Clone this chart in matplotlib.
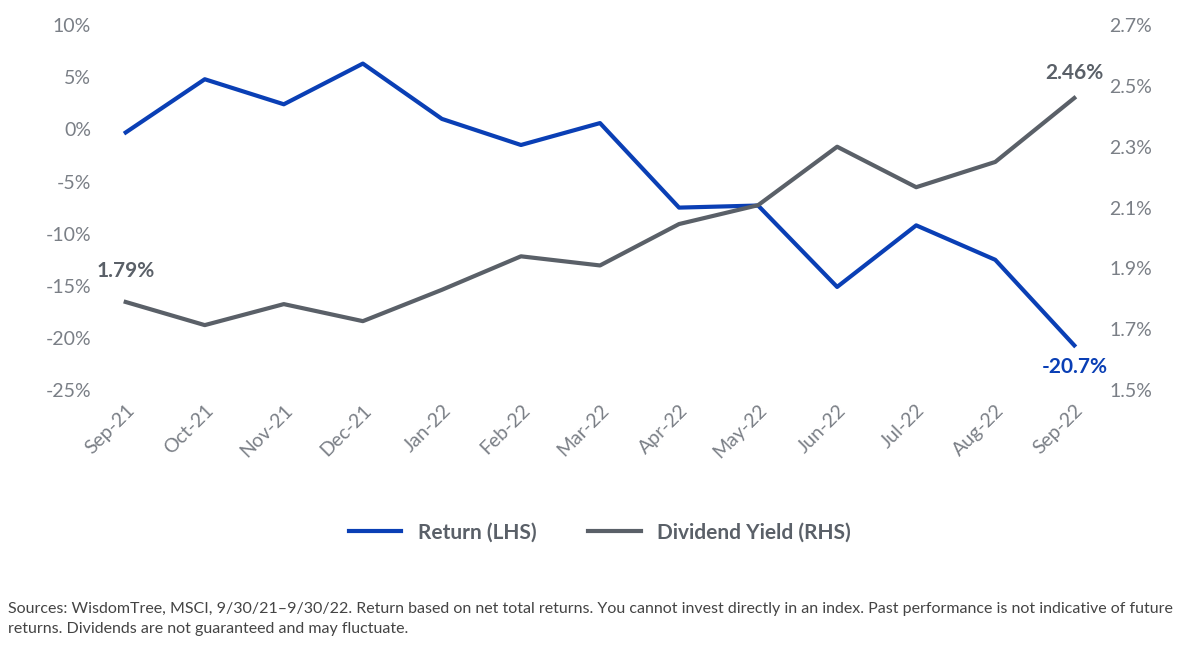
import matplotlib.pyplot as plt

months = ['Sep-21', 'Oct-21', 'Nov-21', 'Dec-21', 'Jan-22', 'Feb-22', 'Mar-22',
          'Apr-22', 'May-22', 'Jun-22', 'Jul-22', 'Aug-22', 'Sep-22']
returns = [-0.3, 4.8, 2.4, 6.3, 1.0, -1.5, 0.6, -7.5, -7.3, -15.1, -9.2, -12.5, -20.7]
div_yield = [1.79, 1.714, 1.783, 1.727, 1.83, 1.94, 1.91, 2.046, 2.108, 2.30, 2.167, 2.25, 2.46]

blue = '#0a3fb5'
grey = '#5a6068'
tick_col = '#7a7f86'
plt.rcParams['font.family'] = ['Lato', 'DejaVu Sans']

fig = plt.figure(figsize=(12, 6.57), dpi=100)
ax = fig.add_axes([0.085, 0.406, 0.83, 0.556])
ax2 = ax.twinx()
x = list(range(len(months)))

l1, = ax.plot(x, returns, color=blue, lw=3, label='Return (LHS)')
l2, = ax2.plot(x, div_yield, color=grey, lw=3, label='Dividend Yield (RHS)')

ax.set_xlim(-0.3, 12.3)
ax.set_ylim(-25, 10)
ax.set_yticks(range(-25, 11, 5))
ax.set_yticklabels([f'{v}%' for v in range(-25, 11, 5)])
ax2.set_ylim(1.5, 2.7)
rt = [1.5, 1.7, 1.9, 2.1, 2.3, 2.5, 2.7]
ax2.set_yticks(rt)
ax2.set_yticklabels([f'{v:.1f}%' for v in rt])
ax.set_xticks(x)
ax.set_xticklabels(months, rotation=45, ha='right', rotation_mode='anchor')

for a in (ax, ax2):
    for s in a.spines.values():
        s.set_visible(False)
    a.tick_params(length=0, labelsize=14, colors=tick_col, pad=8)

ax2.annotate('1.79%', (0, 1.79), xytext=(0, 18), textcoords='offset points',
             ha='center', fontsize=15, fontweight='bold', color=grey)
ax2.annotate('2.46%', (12, 2.46), xytext=(0, 14), textcoords='offset points',
             ha='center', fontsize=15, fontweight='bold', color=grey)
ax.annotate('-20.7%', (12, -20.7), xytext=(0, -20), textcoords='offset points',
            ha='center', fontsize=15, fontweight='bold', color=blue)

fig.legend(handles=[l1, l2], loc='center', bbox_to_anchor=(0.5, 0.19), ncol=2,
           frameon=False, handlelength=2.5, columnspacing=2.5,
           labelcolor=grey, prop={'weight': 'bold', 'size': 15})

fig.text(0.007, 0.037,
         'Sources: WisdomTree, MSCI, 9/30/21–9/30/22. Return based on net total returns. You cannot invest directly in an index. Past performance is not indicative of future\n'
         'returns. Dividends are not guaranteed and may fluctuate.',
         fontsize=11.5, color='#444444', linespacing=1.5)

fig.savefig('out.png', dpi=100)
